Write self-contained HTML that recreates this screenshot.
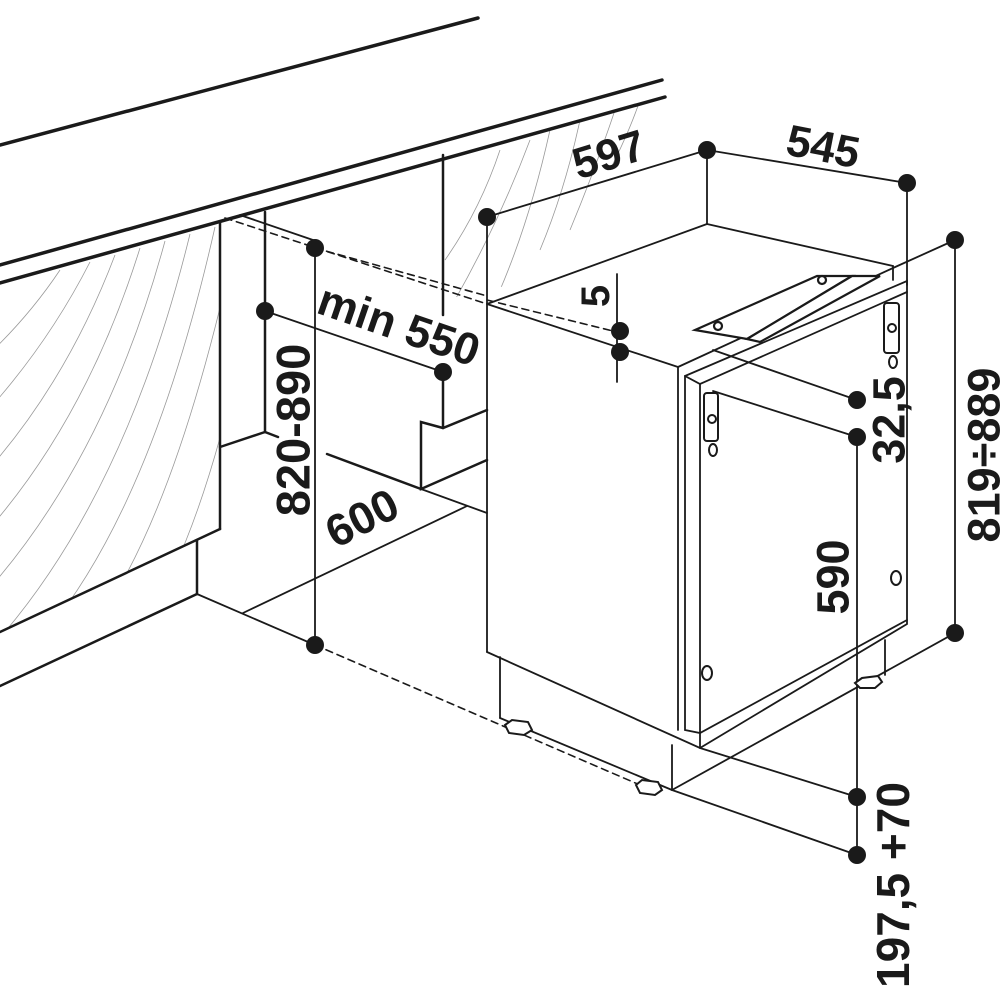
<!DOCTYPE html>
<html><head><meta charset="utf-8"><style>
html,body{margin:0;padding:0;background:#fff;}
svg{display:block}
text{font-family:"Liberation Sans",sans-serif;font-weight:bold;fill:#1a1a1a;text-anchor:middle;dominant-baseline:central}
</style></head><body>
<svg width="1000" height="1000" viewBox="0 0 1000 1000" xmlns="http://www.w3.org/2000/svg">
<defs>
<clipPath id="lp"><polygon points="0,283 220,222 220,529 0,632"/></clipPath>
<clipPath id="rp"><polygon points="443,155 665,97 665,250 443,300"/></clipPath>
</defs>
<g stroke="#999" stroke-width="0.8" fill="none">
 <g clip-path="url(#lp)">
  <path d="M-40,380 Q20,330 60,270"/><path d="M-40,440 Q40,360 90,262"/>
  <path d="M-40,500 Q60,400 115,255"/><path d="M-40,560 Q80,440 140,248"/>
  <path d="M-40,620 Q100,480 165,241"/><path d="M-30,670 Q120,520 190,234"/>
  <path d="M0,680 Q140,560 215,227"/><path d="M40,680 Q160,600 240,220"/>
  <path d="M80,680 Q190,640 260,260"/><path d="M130,680 Q210,660 260,360"/>
 </g>
 <g clip-path="url(#rp)">
  <path d="M445,260 Q480,210 500,150"/><path d="M455,300 Q500,220 530,140"/>
  <path d="M500,290 Q530,220 550,130"/><path d="M540,250 Q565,190 580,120"/>
  <path d="M570,230 Q595,170 615,110"/><path d="M610,170 Q630,130 640,100"/>
 </g>
</g>
<g stroke="#1a1a1a" fill="none" stroke-linecap="round">
 <g stroke-width="3.5">
  <line x1="0" y1="145" x2="478" y2="18"/>
  <line x1="0" y1="265" x2="662" y2="80"/>
  <line x1="0" y1="283" x2="665" y2="97"/>
 </g>
 <g stroke-width="2.5">
  <line x1="220" y1="222" x2="220" y2="529"/>
  <line x1="220" y1="529" x2="0" y2="632"/>
  <line x1="197" y1="540" x2="197" y2="594"/>
  <line x1="197" y1="594" x2="0" y2="686"/>
  <line x1="265" y1="212" x2="265" y2="432"/>
  <line x1="220" y1="447" x2="265" y2="432"/>
  <line x1="265" y1="432" x2="278" y2="437"/>
  <line x1="443" y1="155" x2="443" y2="315"/>
  <line x1="443" y1="372" x2="443" y2="428"/>
  <polyline points="487,410 443,428 421,422 421,489 487,460"/>
  <line x1="327" y1="454" x2="421" y2="489"/>
 </g>
 <g stroke-width="1.8">
  <line x1="421" y1="489" x2="487" y2="513"/>
  <line x1="197" y1="594" x2="315" y2="645"/>
  <line x1="243" y1="613" x2="467" y2="506"/>
  <line x1="240" y1="215" x2="313" y2="240"/>
  <line x1="315" y1="248" x2="315" y2="645"/>
  <line x1="265" y1="311" x2="443" y2="372"/>
 </g>
 <g stroke-width="1.6" stroke-dasharray="7,5">
  <line x1="225" y1="218" x2="487" y2="304"/>
  <line x1="315" y1="248" x2="487" y2="296"/>
  <line x1="487" y1="300" x2="617" y2="332"/>
  <line x1="315" y1="645" x2="640" y2="785"/>
 </g>
 <g stroke-width="1.8">
  <line x1="487" y1="217" x2="487" y2="652"/>
  <line x1="487" y1="217" x2="707" y2="150"/>
  <line x1="707" y1="150" x2="907" y2="183"/>
  <line x1="707" y1="150" x2="707" y2="224"/>
  <line x1="907" y1="183" x2="907" y2="285"/>
  <line x1="487" y1="304" x2="707" y2="224"/>
  <line x1="707" y1="224" x2="893" y2="266"/>
  <line x1="487" y1="304" x2="678" y2="367"/>
  <line x1="678" y1="367" x2="678" y2="730"/>
  <line x1="678" y1="367" x2="893" y2="268"/>
  <line x1="893" y1="266" x2="893" y2="280"/>
  <line x1="893" y1="268" x2="955" y2="240"/>
  <polygon points="685,376 907,281 907,620 700,733 685,730"/>
  <polyline points="685,376 700,384 907,292"/>
  <line x1="700" y1="384" x2="700" y2="733"/>
  <polyline points="487,652 700,748 907,624 907,620"/>
  <line x1="700" y1="733" x2="700" y2="748"/>
  <line x1="500" y1="657" x2="500" y2="718"/>
  <line x1="500" y1="718" x2="672" y2="790"/>
  <line x1="672" y1="745" x2="672" y2="790"/>
  <line x1="885" y1="640" x2="885" y2="675"/>
  <line x1="672" y1="790" x2="955" y2="633"/>
  <line x1="955" y1="240" x2="955" y2="633"/>
  <line x1="617" y1="274" x2="617" y2="382"/>
  <line x1="713" y1="350" x2="857" y2="400"/>
  <line x1="713" y1="391" x2="857" y2="437"/>
  <line x1="857" y1="437" x2="857" y2="855"/>
  <line x1="700" y1="748" x2="857" y2="797"/>
  <line x1="672" y1="790" x2="857" y2="855"/>
 </g>
 <g stroke-width="2.2" fill="#fff">
  <polygon points="695,330 817,276 852,276 747,339"/>
  <polygon points="747,339 852,276 880,276 760,342"/>
  <circle cx="718" cy="326" r="4"/><circle cx="822" cy="280" r="4"/>
 </g>
 <g stroke-width="2" fill="#fff">
  <rect x="704" y="393" width="14" height="48" rx="3"/>
  <circle cx="712" cy="419" r="4"/><ellipse cx="713" cy="450" rx="4" ry="6"/>
  <rect x="884" y="303" width="15" height="50" rx="3"/>
  <circle cx="892" cy="328" r="4"/><ellipse cx="893" cy="362" rx="4" ry="6"/>
  <ellipse cx="707" cy="673" rx="5" ry="7"/><ellipse cx="896" cy="578" rx="5" ry="7"/>
  <polygon points="505,725 512,720 528,722 532,730 524,735 509,733"/>
  <polygon points="636,785 642,780 658,782 662,790 655,795 640,793"/>
  <polygon points="855,683 862,678 878,676 882,682 875,688 860,688"/>
 </g>
</g>
<g fill="#1a1a1a">
 <circle cx="315" cy="248" r="9"/><circle cx="265" cy="311" r="9"/><circle cx="443" cy="372" r="9"/>
 <circle cx="315" cy="645" r="9"/><circle cx="487" cy="217" r="9"/><circle cx="707" cy="150" r="9"/>
 <circle cx="907" cy="183" r="9"/><circle cx="955" cy="240" r="9"/><circle cx="955" cy="633" r="9"/>
 <circle cx="620" cy="331" r="9"/><circle cx="620" cy="352" r="9"/>
 <circle cx="857" cy="400" r="9"/><circle cx="857" cy="437" r="9"/>
 <circle cx="857" cy="797" r="9"/><circle cx="857" cy="855" r="9"/>
</g>
<text x="609" y="155" font-size="44" transform="rotate(-17 609 155)">597</text>
<text x="823" y="147" font-size="44" transform="rotate(11 823 147)">545</text>
<text x="399" y="325" font-size="45" transform="rotate(19 399 325)">min 550</text>
<text x="293" y="430" font-size="47" transform="rotate(-90 293 430)">820-890</text>
<text x="362" y="518" font-size="45" transform="rotate(-27 362 518)">600</text>
<text x="596" y="296" font-size="40" transform="rotate(-90 596 296)">5</text>
<text x="889" y="420" font-size="45" transform="rotate(-90 889 420)">32,5</text>
<text x="833" y="577" font-size="45" transform="rotate(-90 833 577)">590</text>
<text x="984" y="455" font-size="45" transform="rotate(-90 984 455)">819÷889</text>
<text x="893" y="885" font-size="46" transform="rotate(-90 893 885)">197,5 +70</text>
</svg>
</body></html>
